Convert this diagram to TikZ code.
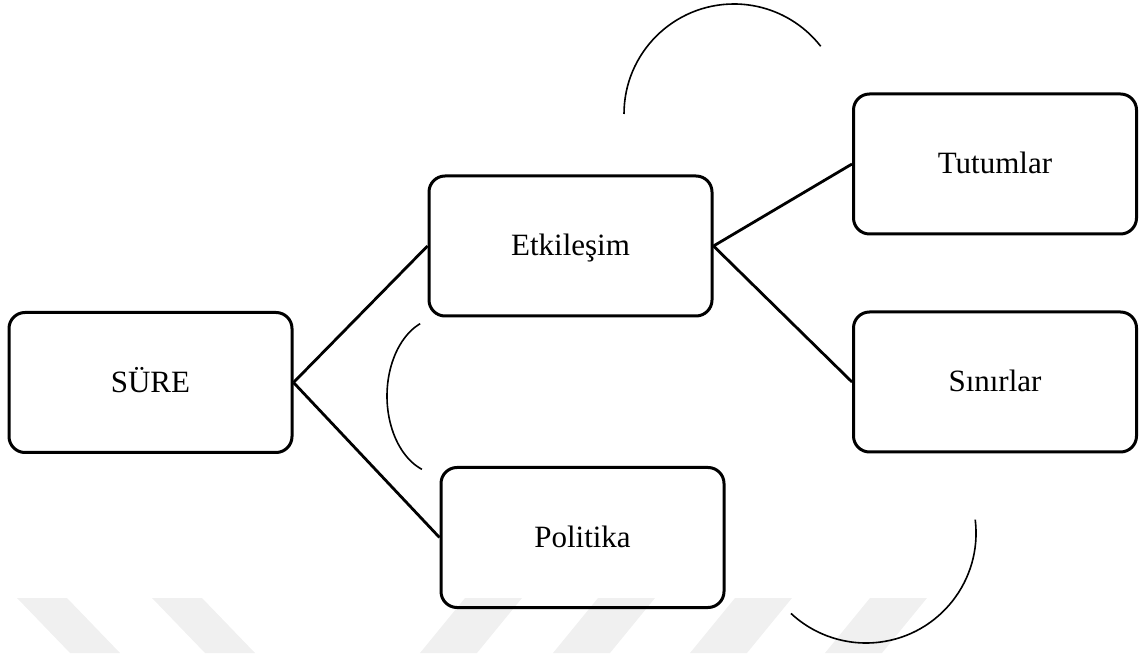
\documentclass[tikz,border=0pt]{standalone}
\usepackage{fontspec}
\setmainfont{Liberation Serif}
\tikzset{
  kutu/.style = {
    draw, rounded corners=8pt, line width=1.5pt,
    minimum width=141.5pt, minimum height=70pt,
    font=\fontsize{15.5}{18}\selectfont,
    text height=11pt, text depth=1pt
  },
  bag/.style = {line width=1.4pt},
  yay/.style = {line width=0.8pt},
  filigran/.style = {fill=black!6, draw=none}
}

\begin{document}
\begin{tikzpicture}[x=0.5pt,y=0.5pt]
  \useasboundingbox (0,0) rectangle (1139,653);
  % watermark
  \foreach \a in {17,152}
    \fill[filigran] (\a,55) -- ++(50,0) -- ++(53,-55) -- ++(-50,0) -- cycle;
  \foreach \a in {465,598,735,870}
    \fill[filigran] (\a,55) -- ++(57,0) -- ++(-45,-55) -- ++(-57,0) -- cycle;
  %
  \node[kutu] (sure)      at (150.5,270.5) {SÜRE};
  \node[kutu] (etkilesim) at (570.5,407)   {Etkileşim};
  \node[kutu] (politika)  at (582.5,115.5) {Politika};
  \node[kutu] (tutumlar)  at (995,489)     {Tutumlar};
  \node[kutu] (sinirlar)  at (995,271)     {Sınırlar};
  %
  \draw[bag] (sure.east) -- (etkilesim.west);
  \draw[bag] (sure.east) -- (politika.west);
  \draw[bag] (etkilesim.east) -- (tutumlar.west);
  \draw[bag] (etkilesim.east) -- (sinirlar.west);
  %
  \draw[yay] (624,539) arc[start angle=180, end angle=38, radius=55pt];
  \draw[yay] (420.15,329.3) arc[start angle=112, end angle=250, x radius=26.5pt, y radius=39pt];
  \draw[yay] (975.2,133.4) arc[start angle=7, end angle=-133, radius=55pt];
\end{tikzpicture}
\end{document}
